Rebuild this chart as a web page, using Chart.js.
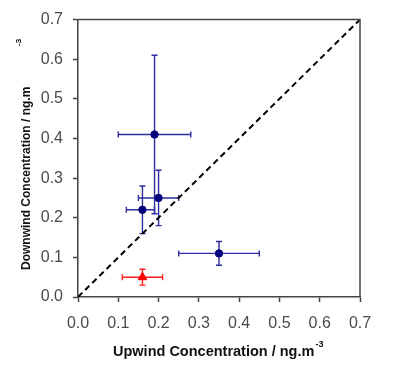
<!DOCTYPE html>
<html lang="en">
<head>
    <meta charset="UTF-8">
    <title>Upwind vs Downwind Concentration</title>
    <script src="https://cdn.jsdelivr.net/npm/chart.js"></script>
    <style>
        html, body { margin: 0; padding: 0; background: #fff; }
        #wrap { width: 400px; height: 370px; }
    </style>
</head>
<body>
    <div id="wrap"><canvas id="concChart" width="400" height="370"></canvas></div>

    <script>
        // blue series
        const blueUp = [0.19, 0.20, 0.16, 0.35];
        const blueDown = [0.41, 0.25, 0.22, 0.11];
        const blueUpLow = [0.10, 0.15, 0.12, 0.25];
        const blueUpHigh = [0.28, 0.25, 0.19, 0.45];
        const blueDownLow = [0.21, 0.18, 0.16, 0.08];
        const blueDownHigh = [0.61, 0.32, 0.28, 0.14];

        // red series
        const redUp = [0.16];
        const redDown = [0.05];
        const redUpLow = [0.11];
        const redUpHigh = [0.21];
        const redDownLow = [0.03];
        const redDownHigh = [0.07];

        // 1:1 line
        const lineUp = [0, 0.7];
        const lineDown = [0, 0.7];

        const axisMax = 0.7;
        const xTitle = "Upwind Concentration / ng.m";
        const yTitle = "Downwind Concentration / ng.m";
        const unitSup = "-3";

        const toPoints = (xs, ys) => xs.map((x, i) => ({ x: x, y: ys[i] }));

        // error bars for each dataset, drawn under the markers
        const errorBars = {
            id: "errorBars",
            beforeDatasetsDraw(chart) {
                const ctx = chart.ctx;
                const xs = chart.scales.x, ys = chart.scales.y;
                const cap = 3;
                chart.data.datasets.forEach(ds => {
                    if (!ds.err) return;
                    ctx.save();
                    ctx.strokeStyle = ds.err.color;
                    ctx.lineWidth = 1.4;
                    ds.data.forEach((p, i) => {
                        const px = xs.getPixelForValue(p.x), py = ys.getPixelForValue(p.y);
                        const x1 = xs.getPixelForValue(ds.err.xl[i]), x2 = xs.getPixelForValue(ds.err.xh[i]);
                        const y1 = ys.getPixelForValue(ds.err.yl[i]), y2 = ys.getPixelForValue(ds.err.yh[i]);
                        ctx.beginPath();
                        ctx.moveTo(x1, py); ctx.lineTo(x2, py);
                        ctx.moveTo(x1, py - cap); ctx.lineTo(x1, py + cap);
                        ctx.moveTo(x2, py - cap); ctx.lineTo(x2, py + cap);
                        ctx.moveTo(px, y1); ctx.lineTo(px, y2);
                        ctx.moveTo(px - cap, y1); ctx.lineTo(px + cap, y1);
                        ctx.moveTo(px - cap, y2); ctx.lineTo(px + cap, y2);
                        ctx.stroke();
                    });
                    ctx.restore();
                });
            }
        };

        // box on top/right + axis titles with superscript
        const frameAndTitles = {
            id: "frameAndTitles",
            afterDraw(chart) {
                const ctx = chart.ctx;
                const a = chart.chartArea;
                ctx.save();
                ctx.strokeStyle = "#444";
                ctx.lineWidth = 1.5;
                ctx.beginPath();
                ctx.moveTo(a.left, a.top); ctx.lineTo(a.right, a.top); ctx.lineTo(a.right, a.bottom);
                ctx.stroke();

                ctx.fillStyle = "#111";
                ctx.textBaseline = "alphabetic";
                // x title
                ctx.font = "bold 14.5px 'Liberation Sans', Arial, sans-serif";
                const xw = ctx.measureText(xTitle).width;
                const xStart = 113;
                ctx.textAlign = "left";
                ctx.fillText(xTitle, xStart, 356);
                ctx.font = "bold 9px 'Liberation Sans', Arial, sans-serif";
                ctx.fillText(unitSup, xStart + xw + 1, 347);

                // y title, rotated
                ctx.translate(30, 0);
                ctx.rotate(-Math.PI / 2);
                ctx.font = "bold 12px 'Liberation Sans', Arial, sans-serif";
                ctx.fillText(yTitle, -270, 0);
                ctx.font = "bold 8px 'Liberation Sans', Arial, sans-serif";
                ctx.fillText(unitSup, -46, -9);
                ctx.restore();
            }
        };

        const tickFont = { family: "'Liberation Sans', Arial, sans-serif", size: 16 };

        new Chart(document.getElementById("concChart"), {
            type: "scatter",
            data: {
                datasets: [
                    {
                        type: "line",
                        data: toPoints(lineUp, lineDown),
                        borderColor: "#000",
                        borderWidth: 2,
                        borderDash: [6, 4],
                        pointRadius: 0,
                        fill: false
                    },
                    {
                        data: toPoints(blueUp, blueDown),
                        pointStyle: "circle",
                        pointRadius: 3.7,
                        backgroundColor: "#00007a",
                        borderColor: "#00007a",
                        err: { color: "#2d2da0", xl: blueUpLow, xh: blueUpHigh, yl: blueDownLow, yh: blueDownHigh }
                    },
                    {
                        data: toPoints(redUp, redDown),
                        pointStyle: "triangle",
                        pointRadius: 5,
                        backgroundColor: "#ff0000",
                        borderColor: "#ff0000",
                        err: { color: "#ff2020", xl: redUpLow, xh: redUpHigh, yl: redDownLow, yh: redDownHigh }
                    }
                ]
            },
            options: {
                responsive: false,
                animation: false,
                layout: { padding: { top: 19, right: 40, left: 0, bottom: 0 } },
                plugins: { legend: { display: false }, tooltip: { enabled: false } },
                scales: {
                    x: {
                        type: "linear",
                        min: 0, max: axisMax,
                        afterFit: s => { s.height = 73; },
                        grid: { drawOnChartArea: false, drawTicks: true, tickLength: 5, tickColor: "#444", tickWidth: 1.5 },
                        border: { color: "#444", width: 1.5 },
                        ticks: { stepSize: 0.1, padding: 12, color: "#4a4a4a", font: tickFont, maxRotation: 0,
                                  callback: v => v.toFixed(1) }
                    },
                    y: {
                        type: "linear",
                        min: 0, max: axisMax,
                        afterFit: s => { s.width = 78; },
                        grid: { drawOnChartArea: false, drawTicks: true, tickLength: 5, tickColor: "#444", tickWidth: 1.5 },
                        border: { color: "#444", width: 1.5 },
                        ticks: { stepSize: 0.1, padding: 10, color: "#4a4a4a", font: tickFont,
                                  callback: v => v.toFixed(1) }
                    }
                }
            },
            plugins: [errorBars, frameAndTitles]
        });
    </script>
</body>
</html>
